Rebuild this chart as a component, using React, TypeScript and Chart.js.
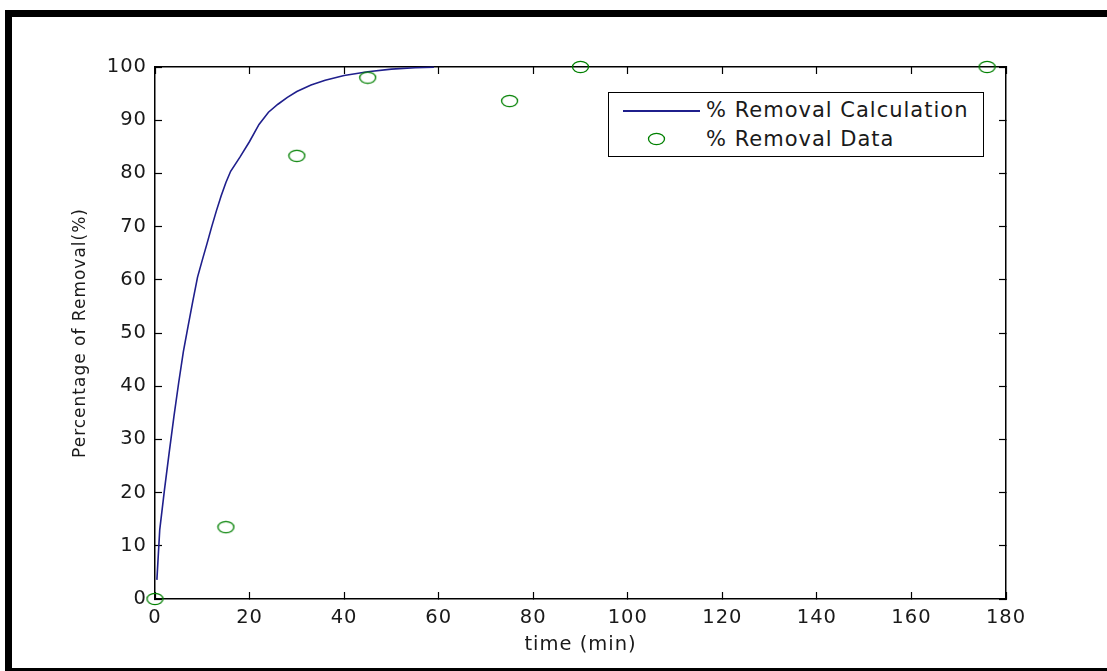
import React, { useEffect, useRef } from "react";
import { Chart, registerables } from "chart.js";

Chart.register(...registerables);

// ---- data ----
const calcTime = [0.4, 1, 2, 3, 4, 5, 6, 7, 8, 9, 10, 11, 12, 13, 14, 15, 16, 18, 20, 22, 24, 26, 28, 30, 33, 36, 40, 45, 50, 55, 59];
const calcRemoval = [3.6, 13, 20.5, 27.5, 34.3, 40.6, 46.5, 51.3, 56, 60.5, 63.7, 66.8, 70, 73, 75.8, 78.3, 80.4, 83.1, 86, 89.2, 91.5, 93, 94.3, 95.4, 96.6, 97.5, 98.4, 99.1, 99.6, 99.85, 99.95];
const dataTime = [0, 15, 30, 45, 75, 90, 176];
const dataRemoval = [0, 13.5, 83.3, 98, 93.6, 100, 100];
const xTicks = [0, 20, 40, 60, 80, 100, 120, 140, 160, 180];
const yTicks = [0, 10, 20, 30, 40, 50, 60, 70, 80, 90, 100];
const calcLabel = "% Removal Calculation";
const dataLabel = "% Removal Data";
const xTitle = "time (min)";
const yTitle = "Percentage of Removal(%)";

const FONT = "'DejaVu Sans'";
const LINE_COLOR = "#1f1f8c";
const GREEN = "#008000";
const TEXT = "#1a1a1a";

function makeEllipse(): HTMLCanvasElement {
  const c = document.createElement("canvas");
  c.width = 19;
  c.height = 14;
  const ctx = c.getContext("2d")!;
  ctx.strokeStyle = GREEN;
  ctx.lineWidth = 1.3;
  ctx.beginPath();
  ctx.ellipse(9.5, 7, 8, 5.6, 0, 0, Math.PI * 2);
  ctx.stroke();
  return c;
}

export default function App() {
  const canvasRef = useRef<HTMLCanvasElement>(null);
  const legendMarkRef = useRef<HTMLDivElement>(null);

  useEffect(() => {
    const el = canvasRef.current!;
    const marker = makeEllipse();
    if (legendMarkRef.current) {
      legendMarkRef.current.innerHTML = "";
      legendMarkRef.current.appendChild(makeEllipse());
    }
    const spacing = {
      id: "letterSpacing",
      beforeLayout(chart: any) {
        chart.ctx.letterSpacing = "1px";
      },
      beforeDraw(chart: any) {
        chart.ctx.letterSpacing = "1px";
      },
    };
    const tickGrid = {
      drawOnChartArea: false,
      drawTicks: true,
      tickLength: -7,
      tickColor: "#000",
      tickWidth: 1.2,
    };
    const chart = new Chart(el, {
      type: "scatter",
      data: {
        datasets: [
          {
            type: "line",
            label: calcLabel,
            data: calcTime.map((t, i) => ({ x: t, y: calcRemoval[i] })),
            borderColor: LINE_COLOR,
            backgroundColor: LINE_COLOR,
            borderWidth: 1.6,
            pointRadius: 0,
            fill: false,
            tension: 0,
            clip: false,
            order: 1,
          } as any,
          {
            type: "scatter",
            label: dataLabel,
            data: dataTime.map((t, i) => ({ x: t, y: dataRemoval[i] })),
            pointStyle: marker,
            pointRadius: 8,
            borderColor: GREEN,
            backgroundColor: "transparent",
            clip: false,
            order: 0,
          } as any,
        ],
      },
      options: {
        responsive: false,
        animation: false,
        events: [],
        layout: { padding: { left: 0, top: 67, right: 101, bottom: 0 } },
        plugins: { legend: { display: false }, tooltip: { enabled: false } },
        scales: {
          x: {
            type: "linear",
            position: "bottom",
            min: 0,
            max: 180,
            afterBuildTicks: (s: any) => {
              s.ticks = xTicks.map((v) => ({ value: v }));
            },
            afterFit: (s: any) => {
              s.height = 72;
            },
            grid: tickGrid,
            border: { display: true, color: "#000", width: 1.5 },
            ticks: { padding: 14, color: TEXT, font: { family: FONT, size: 19.5 }, maxRotation: 0, autoSkip: false },
            title: { display: true, text: xTitle, color: TEXT, font: { family: FONT, size: 19.5 }, padding: { top: 0, bottom: 14 } },
          },
          y: {
            type: "linear",
            position: "left",
            min: 0,
            max: 100,
            afterBuildTicks: (s: any) => {
              s.ticks = yTicks.map((v) => ({ value: v }));
            },
            afterFit: (s: any) => {
              s.width = 155;
            },
            grid: tickGrid,
            border: { display: true, color: "#000", width: 1.5 },
            ticks: { padding: 15, color: TEXT, font: { family: FONT, size: 19.5 }, autoSkip: false },
            title: { display: true, text: yTitle, color: TEXT, font: { family: FONT, size: 17 }, padding: { top: 70, bottom: 0 } },
          },
          x2: {
            type: "linear",
            position: "top",
            min: 0,
            max: 180,
            afterBuildTicks: (s: any) => {
              s.ticks = xTicks.map((v) => ({ value: v }));
            },
            afterFit: (s: any) => {
              s.height = 0;
            },
            grid: tickGrid,
            border: { display: true, color: "#000", width: 1.5 },
            ticks: { display: false },
          },
          y2: {
            type: "linear",
            position: "right",
            min: 0,
            max: 100,
            afterBuildTicks: (s: any) => {
              s.ticks = yTicks.map((v) => ({ value: v }));
            },
            afterFit: (s: any) => {
              s.width = 0;
            },
            grid: tickGrid,
            border: { display: true, color: "#000", width: 1.5 },
            ticks: { display: false },
          },
        },
      },
      plugins: [spacing],
    } as any);
    return () => chart.destroy();
  }, []);

  const textStyle: React.CSSProperties = {
    position: "absolute",
    left: 97,
    fontFamily: FONT,
    fontSize: 21,
    lineHeight: "21px",
    letterSpacing: "1px",
    color: TEXT,
    whiteSpace: "nowrap",
  };

  return (
    <div
      style={{
        position: "fixed",
        left: 0,
        top: 0,
        width: 1107,
        height: 671,
        overflow: "hidden",
        background: "#fff",
      }}
    >
      <div
        style={{
          position: "absolute",
          left: 5,
          top: 10,
          width: 1200,
          height: 665,
          boxSizing: "border-box",
          border: "7px solid #000",
        }}
      />
      <canvas
        ref={canvasRef}
        width={1107}
        height={671}
        style={{ position: "absolute", left: 0, top: 0, width: 1107, height: 671 }}
      />
      <div
        style={{
          position: "absolute",
          left: 608,
          top: 92,
          width: 376,
          height: 65,
          boxSizing: "border-box",
          border: "1.5px solid #000",
          background: "#fff",
        }}
      >
        <div style={{ position: "absolute", left: 14, top: 17, width: 77, height: 1.6, background: LINE_COLOR }} />
        <div style={{ ...textStyle, top: 7 }}>{calcLabel}</div>
        <div ref={legendMarkRef} style={{ position: "absolute", left: 38, top: 39, width: 19, height: 14, lineHeight: 0 }} />
        <div style={{ ...textStyle, top: 36 }}>{dataLabel}</div>
      </div>
    </div>
  );
}
